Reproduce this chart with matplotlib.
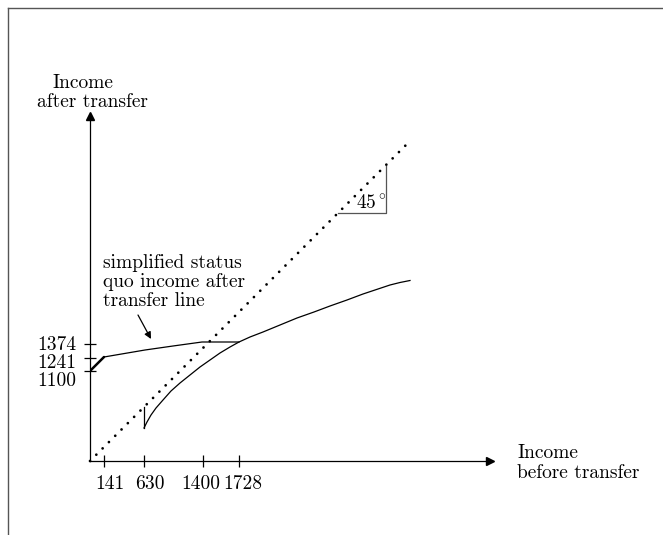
import matplotlib
matplotlib.use('Agg')
import matplotlib.pyplot as plt
import matplotlib.transforms as mtransforms
from matplotlib.lines import Line2D

plt.rcParams['font.family'] = 'serif'
plt.rcParams['font.serif'] = ['cmr10', 'DejaVu Serif']
plt.rcParams['mathtext.fontset'] = 'cm'
plt.rcParams['axes.formatter.use_mathtext'] = True

# schematic diagram units (the picture is not drawn to scale)
x_ticks = [14, 54, 113, 149]
x_tick_labels = ['141', '630', '1400', '1728']
y_ticks = [90, 103, 117]
y_tick_labels = ['1100', '1241', '1374']

# 45 degree reference line
diag_x = [0, 318]
diag_y = [0, 318]

# status quo line: steep first piece, then the flatter part
sq_steep_x = [0, 14]
sq_steep_y = [90, 104]
sq_x = [14, 55, 83, 112, 149]
sq_y = [104, 111, 115, 119, 119]

# income after transfer under the new scheme
new_x = [54, 57, 61, 66, 73, 81, 90, 100, 110, 120, 130, 140, 149, 160, 173,
         190, 207, 224, 240, 257, 273, 288, 300, 310, 320]
new_y = [33, 39, 46, 53, 61, 70, 78, 86, 94, 101, 108, 114, 119, 124, 129,
         136, 143, 149, 155, 161, 167, 172, 176, 178.5, 180.5]
jump_x = [54, 54]
jump_y = [33, 54]

W, H = 663, 535
fig = plt.figure(figsize=(W / 100, H / 100), dpi=100)
ax = fig.add_axes([90 / W, (H - 461) / H, 400 / W, 345 / H])
ax.set_xlim(0, 400)
ax.set_ylim(0, 345)

for s in ['top', 'right']:
    ax.spines[s].set_visible(False)
for s in ['left', 'bottom']:
    ax.spines[s].set_linewidth(0.9)
ax.plot(1, 0, '>k', ms=6, transform=ax.get_yaxis_transform(), clip_on=False)
ax.plot(0, 1, '^k', ms=6, transform=ax.get_xaxis_transform(), clip_on=False)

fs = 14
ax.set_xticks(x_ticks)
ax.set_xticklabels(x_tick_labels)
ax.set_yticks(y_ticks)
ax.set_yticklabels(y_tick_labels)
ax.tick_params(direction='inout', length=8, width=0.9, labelsize=fs)
ax.tick_params(axis='x', pad=6)
ax.tick_params(axis='y', pad=6)

# the labels sit a little off their ticks so they do not collide
x_shift = [6, 6, -2, 4]
y_shift = [-8, -3, 1]
for lab, dx in zip(ax.get_xticklabels(), x_shift):
    lab.set_transform(lab.get_transform() +
                      mtransforms.ScaledTranslation(dx / 100, 0, fig.dpi_scale_trans))
for lab, dy in zip(ax.get_yticklabels(), y_shift):
    lab.set_transform(lab.get_transform() +
                      mtransforms.ScaledTranslation(0, dy / 100, fig.dpi_scale_trans))

ax.plot(diag_x, diag_y, color='black', lw=2.0, linestyle=(0, (0.01, 3.2)),
        dash_capstyle='round', clip_on=False)
ax.plot(sq_steep_x, sq_steep_y, color='black', lw=1.8, solid_capstyle='round')
ax.plot(sq_x, sq_y, color='black', lw=0.9)
ax.plot(new_x, new_y, color='black', lw=0.9)
ax.plot(jump_x, jump_y, color='black', lw=0.9)

# little 45 degree triangle
ax.plot([248, 296, 296], [248, 248, 295], color='#555555', lw=0.9)
ax.text(281, 257, r'$45^\circ$', fontsize=fs, ha='center', va='center')

ax.text(13, 179, 'simplified status\nquo income after\ntransfer line',
        fontsize=fs, ha='left', va='center', linespacing=1.05)
ax.annotate('', xy=(61, 122), xytext=(48, 146),
            arrowprops=dict(arrowstyle='-|>', color='black', lw=0.9,
                            mutation_scale=10, shrinkA=0, shrinkB=0))

ax.text(-38, 373, 'Income', fontsize=fs, ha='left', va='baseline', clip_on=False)
ax.text(-53, 354, 'after transfer', fontsize=fs, ha='left', va='baseline', clip_on=False)
ax.text(427, 3, 'Income', fontsize=fs, ha='left', va='baseline', clip_on=False)
ax.text(427, -17, 'before transfer', fontsize=fs, ha='left', va='baseline', clip_on=False)

# page frame (top and left edges only)
fig.add_artist(Line2D([8 / W, 1], [1 - 8 / H, 1 - 8 / H], transform=fig.transFigure,
                      color='#555555', lw=1))
fig.add_artist(Line2D([8 / W, 8 / W], [0, 1 - 8 / H], transform=fig.transFigure,
                      color='#555555', lw=1))

fig.savefig('out.png', dpi=100)
